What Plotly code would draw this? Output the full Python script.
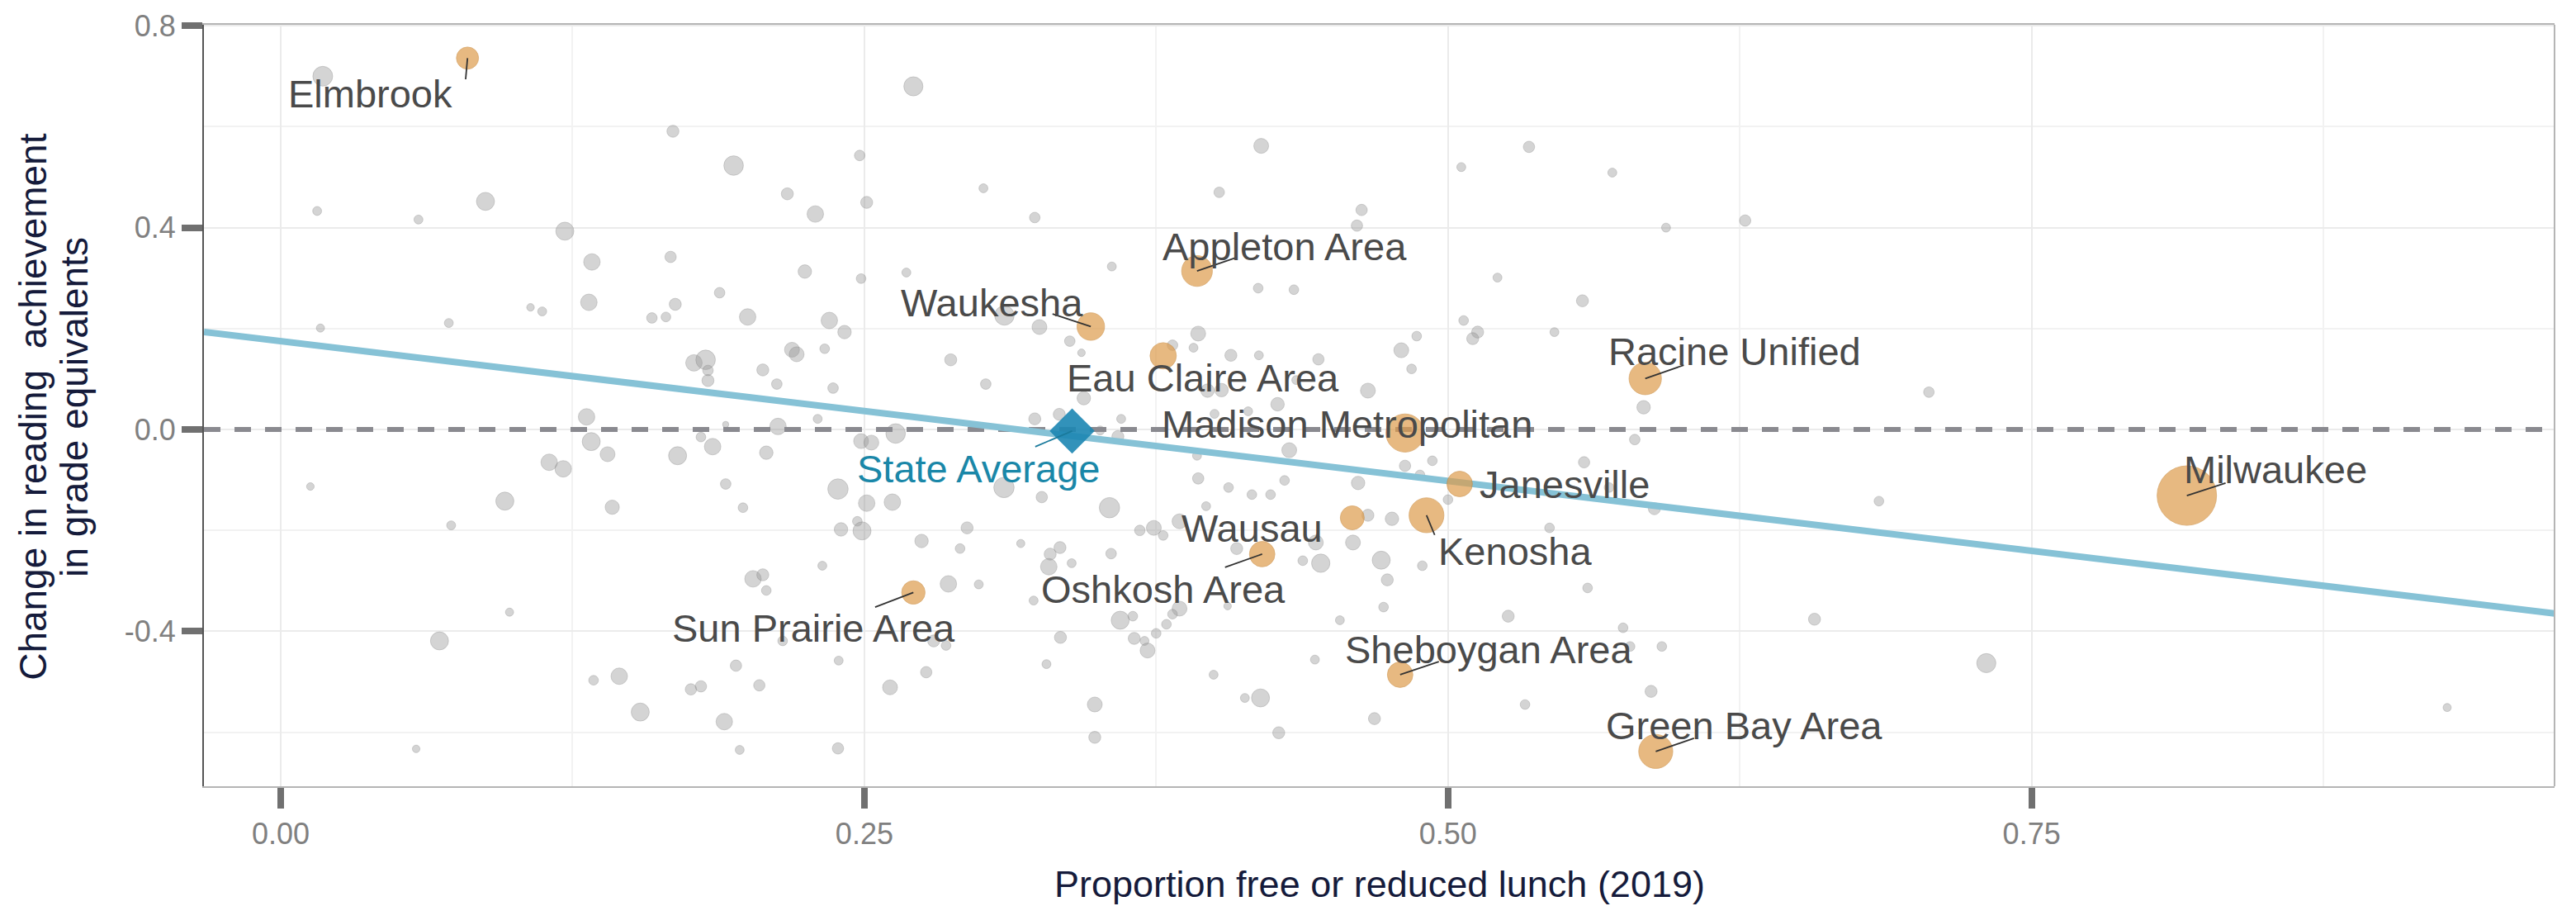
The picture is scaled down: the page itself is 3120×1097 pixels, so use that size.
import numpy as np
import plotly.graph_objects as go

# ---------------- DATA ----------------
# Other districts: proportion free/reduced lunch (2019), change in reading, enrollment
other_frl = [
    0.018, 0.271, 0.0156, 0.059, 0.0877, 0.1217, 0.1333, 0.132, 0.107, 0.112,
    0.072, 0.017, 0.159, 0.131, 0.133, 0.140, 0.115, 0.121, 0.0127, 0.096,
    0.142, 0.073, 0.098, 0.068, 0.134, 0.145, 0.154, 0.058, 0.168, 0.194,
    0.248, 0.217, 0.251, 0.229, 0.301, 0.323, 0.420, 0.402, 0.167, 0.2245,
    0.2486, 0.268, 0.356, 0.188, 0.169, 0.165, 0.200, 0.235, 0.2415, 0.310,
    0.325, 0.338, 0.393, 0.391, 0.382, 0.407, 0.419, 0.343, 0.287, 0.219,
    0.221, 0.233, 0.177, 0.182, 0.183, 0.183, 0.2065, 0.2125, 0.2366, 0.302,
    0.344, 0.397, 0.403, 0.427, 0.323, 0.3335, 0.360, 0.351, 0.3586, 0.213,
    0.230, 0.1906, 0.180, 0.185, 0.170, 0.208, 0.2486, 0.253, 0.2634, 0.432,
    0.1906, 0.198, 0.2387, 0.251, 0.262, 0.247, 0.249, 0.240, 0.3098, 0.326,
    0.355, 0.294, 0.2745, 0.291, 0.317, 0.3296, 0.3338, 0.3557, 0.3388, 0.329,
    0.368, 0.374, 0.378, 0.385, 0.393, 0.406, 0.416, 0.424, 0.430, 0.4095,
    0.4056, 0.385, 0.382, 0.365, 0.3596, 0.3794, 0.375, 0.3656, 0.370, 0.3713,
    0.334, 0.3225, 0.328, 0.3996, 0.413, 0.4197, 0.3487, 0.3487, 0.4275, 0.286,
    0.299, 0.232, 0.2023, 0.2065, 0.208, 0.215, 0.2797, 0.285, 0.239, 0.2765,
    0.195, 0.1757, 0.180, 0.205, 0.261, 0.190, 0.1966, 0.2387, 0.463, 0.461,
    0.4187, 0.434, 0.5067, 0.5127, 0.5106, 0.4866, 0.480, 0.4844, 0.4657, 0.4445,
    0.435, 0.400, 0.4144, 0.3925, 0.4615, 0.4816, 0.488, 0.4933, 0.4657, 0.476,
    0.3964, 0.4378, 0.4455, 0.4434, 0.4593, 0.4714, 0.474, 0.4724, 0.489, 0.4537,
    0.443, 0.4685, 0.500, 0.5347, 0.5057, 0.5704, 0.5934, 0.6273, 0.5212, 0.5576,
    0.5456, 0.5838, 0.706, 0.580, 0.5583, 0.5435, 0.5598, 0.5258, 0.575, 0.578,
    0.5916, 0.587, 0.533, 0.5884, 0.6846, 0.657, 0.569, 0.7306, 0.928,
]
other_change = [
    0.700, 0.680, 0.433, 0.416, 0.452, 0.393, 0.332, 0.252, 0.242, 0.234,
    0.211, 0.201, 0.221, 0.025, -0.024, -0.049, -0.065, -0.078, -0.113, -0.142,
    -0.154, -0.190, -0.362, -0.419, -0.497, -0.489, -0.560, -0.633, 0.591, 0.523,
    0.543, 0.467, 0.450, 0.427, 0.478, 0.420, 0.562, 0.470, 0.342, 0.313,
    0.299, 0.311, 0.323, 0.271, 0.248, 0.223, 0.223, 0.216, 0.193, 0.226,
    0.203, 0.175, 0.190, 0.162, 0.167, 0.147, 0.147, 0.152, 0.138, 0.158,
    0.149, 0.160, 0.132, 0.138, 0.117, 0.097, 0.118, 0.090, 0.082, 0.090,
    0.062, 0.077, 0.078, 0.050, 0.021, 0.030, 0.021, -0.002, -0.014, 0.006,
    0.021, 0.010, -0.015, -0.034, -0.052, -0.046, -0.023, -0.026, -0.008, -0.041,
    -0.108, -0.155, -0.118, -0.146, -0.144, -0.182, -0.201, -0.198, -0.115, -0.134,
    -0.155, -0.195, -0.221, -0.236, -0.226, -0.247, -0.234, -0.246, -0.265, -0.272,
    -0.200, -0.195, -0.210, -0.182, -0.097, -0.115, -0.129, -0.129, -0.101, -0.236,
    -0.350, -0.355, -0.366, -0.370, -0.378, -0.386, -0.404, -0.414, -0.419, -0.438,
    -0.412, -0.339, -0.465, -0.486, -0.532, -0.532, -0.545, -0.610, -0.601, -0.306,
    -0.307, -0.270, -0.296, -0.288, -0.319, -0.419, -0.419, -0.428, -0.458, -0.481,
    -0.468, -0.515, -0.509, -0.507, -0.511, -0.579, -0.635, -0.632, 0.435, 0.404,
    0.280, 0.277, 0.216, 0.193, 0.180, 0.185, 0.157, 0.120, 0.077, 0.139,
    0.098, 0.031, 0.036, -0.052, -0.106, -0.072, -0.090, -0.062, -0.170, -0.177,
    -0.152, -0.260, -0.265, -0.224, -0.224, -0.259, -0.298, -0.352, -0.270, -0.378,
    -0.456, -0.573, -0.139, 0.560, 0.520, 0.509, 0.400, 0.414, 0.301, 0.255,
    0.193, 0.044, 0.074, -0.020, -0.065, -0.195, -0.314, -0.370, -0.393, -0.430,
    -0.430, -0.519, -0.545, -0.157, -0.142, -0.376, -0.115, -0.463, -0.551,
]
other_enroll = [
    5000, 4500, 300, 300, 3800, 3800, 2900, 2900, 150, 300,
    300, 200, 600, 2900, 3800, 2100, 2900, 2900, 150, 3800,
    1800, 300, 200, 3800, 420, 2900, 3800, 150, 1000, 4800,
    600, 1000, 1000, 2900, 300, 600, 2100, 600, 800, 1500,
    420, 300, 300, 600, 1000, 420, 2900, 2900, 1500, 4800,
    2100, 600, 2100, 300, 600, 1000, 300, 150, 1000, 2100,
    2100, 420, 2900, 4800, 600, 1000, 1000, 600, 600, 600,
    1500, 1500, 1500, 1500, 1000, 1000, 300, 300, 1000, 2900,
    300, 100, 420, 2900, 3800, 1500, 2100, 2100, 4800, 2100,
    600, 420, 5400, 2900, 2900, 420, 3800, 1500, 5400, 800,
    5400, 1000, 1500, 420, 200, 1000, 1000, 600, 300, 2900,
    600, 2100, 420, 2100, 800, 420, 420, 420, 420, 1000,
    150, 2100, 420, 420, 3800, 420, 420, 1000, 300, 2100,
    1000, 300, 300, 300, 300, 3800, 2100, 1000, 1000, 2900,
    300, 300, 2900, 1000, 420, 420, 1000, 420, 300, 800,
    800, 800, 800, 800, 2100, 2900, 300, 800, 800, 800,
    420, 420, 420, 1000, 1000, 420, 2100, 420, 2100, 800,
    300, 300, 300, 300, 1500, 800, 420, 420, 1000, 1500,
    300, 420, 4000, 2100, 2100, 3800, 1000, 420, 420, 300,
    300, 1000, 420, 800, 300, 300, 300, 800, 300, 1000,
    300, 1500, 600, 600, 800, 420, 420, 1000, 420, 420,
    420, 1000, 420, 1000, 420, 1000, 420, 4500, 200,
]

# Highlighted (labelled) districts
hl_names = [
    "Elmbrook", "Appleton Area", "Waukesha", "Eau Claire Area",
    "Madison Metropolitan", "Racine Unified", "Janesville", "Kenosha",
    "Wausau", "Oshkosh Area", "Sun Prairie Area", "Sheboygan Area",
    "Green Bay Area", "Milwaukee",
]
hl_frl = [0.080, 0.3925, 0.347, 0.378, 0.4816, 0.5845, 0.505, 0.4908,
          0.459, 0.4204, 0.271, 0.4795, 0.589, 0.8165]
hl_change = [0.736, 0.314, 0.204, 0.146, -0.007, 0.101, -0.108, -0.170,
             -0.175, -0.247, -0.323, -0.486, -0.638, -0.131]
hl_enroll = [6800, 16000, 12100, 10800, 27000, 18200, 9900, 21800,
             8400, 9900, 7900, 9900, 20600, 75000]

state_avg_label = "State Average"
state_avg_frl = 0.339
state_avg_change = -0.003

trend_intercept = 0.175
trend_slope = -0.554

x_tick_vals = [0.0, 0.25, 0.50, 0.75]
x_tick_text = ["0.00", "0.25", "0.50", "0.75"]
y_tick_vals = [-0.4, 0.0, 0.4, 0.8]
y_tick_text = ["-0.4", "0.0", "0.4", "0.8"]

x_title = "Proportion free or reduced lunch (2019)"
y_title_lines = ["Change in reading  achievement", "in grade equivalents"]

# ---------------- LAYOUT SETTINGS ----------------
X_RANGE = [-0.0329, 0.974]
Y_RANGE = [-0.707, 0.802]
X_MINOR = [0.125, 0.375, 0.625, 0.875]
Y_MINOR = [-0.6, -0.2, 0.2, 0.6]

FONT = "Liberation Sans, Arial, sans-serif"

# label placement: name -> (text x, text y, leader end or None)
label_pos = {
    "Elmbrook": (0.0382, 0.666, (0.0792, 0.694)),
    "Appleton Area": (0.430, 0.363, (0.4088, 0.340)),
    "Waukesha": (0.3045, 0.252, (0.3306, 0.229)),
    "Eau Claire Area": (0.395, 0.103, None),
    "Madison Metropolitan": (0.4569, 0.011, None),
    "Racine Unified": (0.6227, 0.154, (0.601, 0.1276)),
    "Janesville": (0.5498, -0.108, None),
    "Kenosha": (0.5286, -0.242, (0.4943, -0.209)),
    "Wausau": (0.416, -0.195, None),
    "Oshkosh Area": (0.378, -0.317, (0.4045, -0.273)),
    "Sun Prairie Area": (0.2284, -0.394, (0.2546, -0.352)),
    "Sheboygan Area": (0.5173, -0.436, (0.4961, -0.460)),
    "Green Bay Area": (0.627, -0.587, (0.6054, -0.612)),
    "Milwaukee": (0.8543, -0.080, (0.8331, -0.106)),
}
state_label_pos = (0.299, -0.077, (0.3232, -0.034))

# size scale (area-proportional, like ggplot scale_size)
ENR_MIN, ENR_MAX = 100, 75000
D_MIN, D_MAX = 7.5, 72


def diam(v):
    v = np.clip(np.asarray(v, dtype=float), ENR_MIN, ENR_MAX)
    return D_MIN + (D_MAX - D_MIN) * np.sqrt((v - ENR_MIN) / (ENR_MAX - ENR_MIN))


fig = go.Figure()

# gray districts
fig.add_trace(go.Scatter(
    x=other_frl, y=other_change, mode="markers",
    marker=dict(size=diam(other_enroll), color="rgba(150,150,150,0.58)",
                line=dict(color="rgba(120,120,120,0.45)", width=1)),
    hoverinfo="skip", showlegend=False,
))

# zero reference (dashed)
fig.add_trace(go.Scatter(
    x=X_RANGE, y=[0, 0], mode="lines",
    line=dict(color="#8a8a90", width=6, dash="20px,17px"),
    hoverinfo="skip", showlegend=False,
))

# trend line
trend_x = np.array(X_RANGE)
trend_y = trend_intercept + trend_slope * trend_x
fig.add_trace(go.Scatter(
    x=trend_x, y=trend_y, mode="lines",
    line=dict(color="#86c2d6", width=8),
    hoverinfo="skip", showlegend=False,
))

# highlighted districts
fig.add_trace(go.Scatter(
    x=hl_frl, y=hl_change, mode="markers",
    marker=dict(size=diam(hl_enroll), color="rgb(222,156,76)",
                line=dict(color="rgba(200,132,50,0.8)", width=1)),
    text=hl_names, hoverinfo="text", showlegend=False,
))

# state average
fig.add_trace(go.Scatter(
    x=[state_avg_frl], y=[state_avg_change], mode="markers",
    marker=dict(symbol="diamond", size=42, color="rgba(28,134,178,0.9)",
                line=dict(width=0)),
    hoverinfo="skip", showlegend=False,
))

shapes = []
annotations = []
for name, xv, yv in zip(hl_names, hl_frl, hl_change):
    tx, ty, lead = label_pos[name]
    if lead is not None:
        shapes.append(dict(type="line", xref="x", yref="y", x0=xv, y0=yv,
                           x1=lead[0], y1=lead[1],
                           line=dict(color="#333333", width=1.8), layer="above"))
    annotations.append(dict(x=tx, y=ty, xref="x", yref="y", text=name,
                            showarrow=False, xanchor="center", yanchor="middle",
                            font=dict(family=FONT, size=47, color="#4a4a4a")))

sx, sy, slead = state_label_pos
shapes.append(dict(type="line", xref="x", yref="y", x0=state_avg_frl,
                   y0=state_avg_change, x1=slead[0], y1=slead[1],
                   line=dict(color="#1a7a9c", width=1.8), layer="above"))
annotations.append(dict(x=sx, y=sy, xref="x", yref="y", text=state_avg_label,
                        showarrow=False, xanchor="center", yanchor="middle",
                        font=dict(family=FONT, size=47, color="#1a87a8")))

# right border
shapes.append(dict(type="line", xref="paper", yref="paper", x0=1, x1=1, y0=0, y1=1,
                   line=dict(color="#b5b5b5", width=2), layer="above"))

# axis titles
annotations.append(dict(x=0.5, y=-0.1285, xref="paper", yref="paper", text=x_title,
                        showarrow=False, xanchor="center", yanchor="middle",
                        font=dict(family=FONT, size=45, color="#151b3b")))
for i, line in enumerate(y_title_lines):
    annotations.append(dict(x=0, y=0.498, xref="paper", yref="paper", text=line,
                            textangle=-90, showarrow=False, xanchor="center",
                            yanchor="middle", xshift=-207 + 50 * i,
                            font=dict(family=FONT, size=46, color="#151b3b")))

fig.update_layout(
    width=3120, height=1097,
    margin=dict(l=247, r=26, t=30, b=145, autoexpand=False),
    paper_bgcolor="white", plot_bgcolor="white",
    shapes=shapes, annotations=annotations,
    font=dict(family=FONT),
    xaxis=dict(
        range=X_RANGE, tickmode="array", tickvals=x_tick_vals, ticktext=x_tick_text,
        ticks="outside", ticklen=25, tickwidth=8, tickcolor="#707070",
        tickfont=dict(family=FONT, size=36, color="#808080"),
        showgrid=True, gridcolor="#ebebeb", gridwidth=2,
        minor=dict(tickmode="array", tickvals=X_MINOR, showgrid=True,
                   gridcolor="#f2f2f2", gridwidth=1.5, ticks=""),
        zeroline=False, showline=True, linecolor="#b5b5b5", linewidth=2, mirror=True,
        automargin=False,
    ),
    yaxis=dict(
        range=Y_RANGE, tickmode="array", tickvals=y_tick_vals, ticktext=y_tick_text,
        ticks="outside", ticklen=25, tickwidth=8, tickcolor="#707070",
        tickfont=dict(family=FONT, size=36, color="#808080"),
        showgrid=True, gridcolor="#ebebeb", gridwidth=2,
        minor=dict(tickmode="array", tickvals=Y_MINOR, showgrid=True,
                   gridcolor="#f2f2f2", gridwidth=1.5, ticks=""),
        zeroline=False, showline=True, linecolor="#555555", linewidth=2, mirror=False,
        automargin=False,
    ),
)

fig.write_html(
    "out.html",
    config={"displayModeBar": False},
    post_script="document.body.style.margin='0';document.body.style.overflow='hidden';",
)
